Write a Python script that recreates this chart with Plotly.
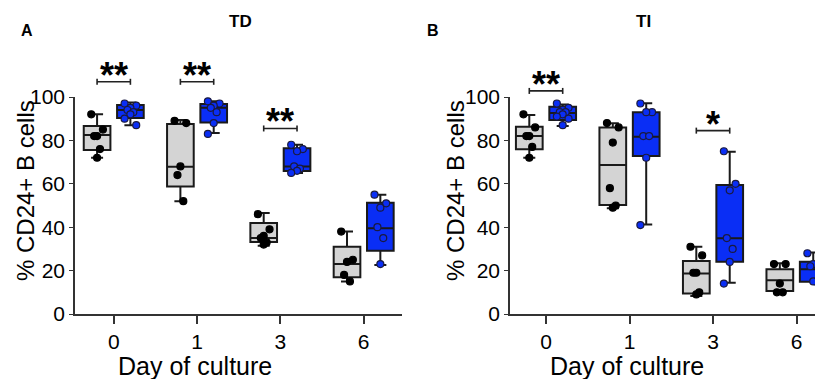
import plotly.graph_objects as go

days = ["0", "1", "3", "6"]

# Panel A (TD)
td_grey_pts = [[92, 85, 82, 82, 76, 72], [89, 88, 68, 64, 52], [46, 39, 36, 35, 33, 32], [38, 25, 24, 18, 15]]
td_grey_q1 = [75.6, 58.7, 33.2, 16.9]
td_grey_med = [82.5, 67.9, 35.0, 23.0]
td_grey_q3 = [86.6, 87.6, 41.9, 31.0]
td_grey_lo = [72, 52, 31.5, 15]
td_grey_hi = [92, 89.4, 46.5, 38]

td_blue_pts = [[97, 96, 95, 94, 93, 92, 90, 87], [98, 97, 96, 95, 93, 88, 83], [78, 76, 75, 68, 67, 66, 65], [55, 51, 49, 40, 35, 23]]
td_blue_q1 = [90.3, 88.3, 65.9, 29.2]
td_blue_med = [94.0, 95.0, 68.0, 39.5]
td_blue_q3 = [96.3, 96.8, 76.4, 51.3]
td_blue_lo = [87, 83.4, 65, 22.6]
td_blue_hi = [97.5, 98, 78, 55]

# Panel B (TI)
ti_grey_pts = [[92, 86, 82, 82, 77, 72], [88, 86, 79, 58, 50, 49], [31, 27, 19, 19, 10, 9], [23, 23, 14, 10, 10]]
ti_grey_q1 = [75.9, 50.2, 9.5, 10.6]
ti_grey_med = [82.0, 68.7, 18.7, 15.5]
ti_grey_q3 = [86.3, 86.0, 24.4, 20.6]
ti_grey_lo = [72, 48.7, 8.3, 9.5]
ti_grey_hi = [91.7, 87.9, 31, 23.4]

ti_blue_pts = [[97, 95, 94, 93, 93, 92, 91, 90, 87], [97, 93, 93, 82, 82, 72, 41], [75, 60, 57, 35, 30, 24, 14], [28, 25, 23, 22, 15, 15]]
ti_blue_q1 = [89.4, 72.8, 24.1, 14.9]
ti_blue_med = [92.6, 81.7, 34.9, 20.6]
ti_blue_q3 = [95.5, 93.0, 59.4, 24.1]
ti_blue_lo = [86.6, 41.3, 14.4, 14.9]
ti_blue_hi = [96.5, 97.1, 74.8, 28.3]

# significance marks: (panel, day index, label, bracket y value, star y value)
sig_marks = [
    ("A", 0, "**", 107, 110),
    ("A", 1, "**", 107, 110),
    ("A", 2, "**", 85.5, 88.5),
    ("B", 0, "**", 102.8, 105.8),
    ("B", 2, "*", 84.5, 87.2),
]

GREY = "#d4d4d4"
BLUE = "#0a2ef5"
# the page body keeps its default 8px margin, so lay the figure out from (8, 8)
PAGE_W, PAGE_H, OFFS = 823, 379, 8
W, H = PAGE_W - OFFS, PAGE_H - OFFS


def fx(px):
    return (px - OFFS) / W


def fy(py):
    return 1 - (py - OFFS) / H


YDOM = [fy(314), fy(97)]
OFF = 0.2
BW = 0.32
JIT = [-0.07, 0.07, 0.0, -0.035, 0.035, 0.0, -0.07, 0.07, 0.0]

fig = go.Figure()


def add_panel(xa, ya, grey, blue):
    for stats, pos_sign, fill, mcol, mline in [
        (grey, -1, GREY, "black", "black"),
        (blue, 1, BLUE, BLUE, "#1a1a40"),
    ]:
        pts, q1, med, q3, lo, hi = stats
        xs = [i + pos_sign * OFF for i in range(len(days))]
        fig.add_trace(go.Box(
            x=xs, q1=q1, median=med, q3=q3, lowerfence=lo, upperfence=hi,
            width=BW, whiskerwidth=0.45, fillcolor=fill,
            line=dict(color="#1a1a1a", width=2), boxpoints=False,
            xaxis=xa, yaxis=ya, showlegend=False, hoverinfo="skip",
        ))
        px, py = [], []
        for i, vals in enumerate(pts):
            for j, v in enumerate(vals):
                px.append(xs[i] + JIT[j % len(JIT)])
                py.append(v)
        fig.add_trace(go.Scatter(
            x=px, y=py, mode="markers", xaxis=xa, yaxis=ya, showlegend=False,
            cliponaxis=False, hoverinfo="skip",
            marker=dict(size=7, color=mcol, line=dict(color=mline, width=1.2)),
        ))


add_panel("x", "y", (td_grey_pts, td_grey_q1, td_grey_med, td_grey_q3, td_grey_lo, td_grey_hi),
          (td_blue_pts, td_blue_q1, td_blue_med, td_blue_q3, td_blue_lo, td_blue_hi))
add_panel("x2", "y2", (ti_grey_pts, ti_grey_q1, ti_grey_med, ti_grey_q3, ti_grey_lo, ti_grey_hi),
          (ti_blue_pts, ti_blue_q1, ti_blue_med, ti_blue_q3, ti_blue_lo, ti_blue_hi))


def ypaper(v):
    return YDOM[0] + v / 100 * (YDOM[1] - YDOM[0])


FONT = "Liberation Sans, Arial, sans-serif"
shapes, annos = [], []
for panel, di, lab, by, sy in sig_marks:
    xr = "x" if panel == "A" else "x2"
    x0, x1 = di - OFF, di + OFF
    yp = ypaper(by)
    d = 3 / H
    ln = dict(color="#222", width=1.6)
    shapes.append(dict(type="line", xref=xr, yref="paper", x0=x0, x1=x1, y0=yp, y1=yp, line=ln))
    shapes.append(dict(type="line", xref=xr, yref="paper", x0=x0, x1=x0, y0=yp - d, y1=yp + d, line=ln))
    shapes.append(dict(type="line", xref=xr, yref="paper", x0=x1, x1=x1, y0=yp - d, y1=yp + d, line=ln))
    annos.append(dict(text="<b>" + lab + "</b>", xref=xr, yref="paper", x=di, y=ypaper(sy),
                      xanchor="center", yanchor="middle", showarrow=False,
                      font=dict(size=36, color="black", family=FONT)))


def label(text, px, py, size, bold=False, angle=0):
    return dict(text=("<b>%s</b>" % text) if bold else text, xref="paper", yref="paper",
                x=fx(px), y=fy(py), xanchor="center", yanchor="middle", showarrow=False,
                textangle=angle, font=dict(size=size, family=FONT, color="black"))


annos += [
    label("A", 27, 31, 16, bold=True),
    label("TD", 240, 22, 17, bold=True),
    label("B", 433, 31, 16, bold=True),
    label("TI", 643, 22, 17, bold=True),
    label("Day of culture", 195, 366, 25),
    label("Day of culture", 627, 366, 25),
    label("% CD24+ B cells", 25, 191, 24, angle=-90),
    label("% CD24+ B cells", 455, 191, 24, angle=-90),
]

xcommon = dict(tickvals=list(range(len(days))), ticktext=days, showline=True, linecolor="#333",
               linewidth=1.6, ticks="outside", ticklen=8, tickwidth=1.6, tickcolor="#333",
               showgrid=False, zeroline=False, automargin=False,
               tickfont=dict(size=21, family=FONT, color="black"))
ycommon = dict(range=[0, 100], tickvals=[0, 20, 40, 60, 80, 100], showline=True, linecolor="#333",
               linewidth=1.6, ticks="outside", ticklen=4, tickwidth=1.2, tickcolor="#333",
               showgrid=False, zeroline=False, domain=YDOM, automargin=False,
               tickfont=dict(size=21, family=FONT, color="black"))

fig.update_layout(
    template="none",
    width=W, height=H, margin=dict(l=0, r=0, t=0, b=0, pad=0, autoexpand=False),
    paper_bgcolor="white", plot_bgcolor="white", showlegend=False,
    xaxis=dict(domain=[fx(75), fx(402)], range=[-0.465, 3.46], **xcommon),
    xaxis2=dict(domain=[fx(510), 1.0], range=[-0.431, 3.317], **xcommon),
    yaxis=dict(anchor="x", **ycommon),
    yaxis2=dict(anchor="x2", **ycommon),
    shapes=shapes, annotations=annos,
)

fig.write_html("out.html")
